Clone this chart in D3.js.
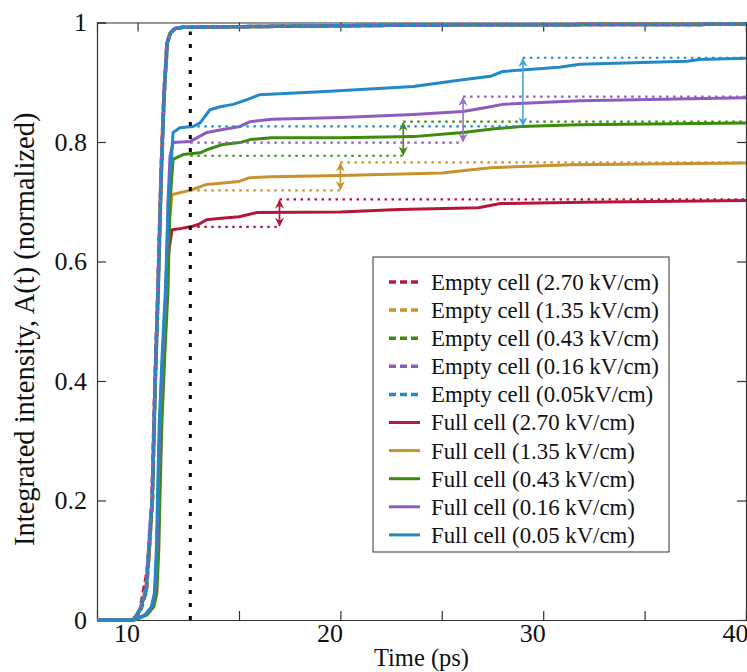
<!DOCTYPE html>
<html>
<head>
<meta charset="utf-8">
<script src="https://cdn.jsdelivr.net/npm/d3@7"></script>
<style>
  body { margin: 0; background: #fff; }
  svg text { font-family: "Liberation Serif", "Times New Roman", serif; fill: #111; }
</style>
</head>
<body>
<div id="chart"></div>
<script>
// series names and colours
const fields = ["2.70", "1.35", "0.43", "0.16", "0.05"];
const colors = ["#b5173a", "#c8922f", "#3b8c0c", "#8e5cc0", "#2289c6"];
const arrowColors = ["#b5173a", "#c8922f", "#3b8c0c", "#9b70c8", "#4aa3d8"];

const emptyLabels = ["Empty cell (2.70 kV/cm)", "Empty cell (1.35 kV/cm)", "Empty cell (0.43 kV/cm)",
  "Empty cell (0.16 kV/cm)", "Empty cell (0.05kV/cm)"];
const fullLabels = ["Full cell (2.70 kV/cm)", "Full cell (1.35 kV/cm)", "Full cell (0.43 kV/cm)",
  "Full cell (0.16 kV/cm)", "Full cell (0.05 kV/cm)"];

// empty cell curves (time in ps, normalized intensity)
const emptyT = [
  [8, 9.78, 10.12, 10.42, 10.55, 10.71, 10.86, 11.0, 11.16, 11.3, 11.45, 11.6, 11.85, 12.24, 18, 25, 40],
  [8, 9.78, 10.12, 10.42, 10.58, 10.72, 10.87, 11.0, 11.16, 11.3, 11.45, 11.6, 11.85, 12.24, 18, 25, 40],
  [8, 9.8, 10.15, 10.45, 10.62, 10.74, 10.88, 11.02, 11.18, 11.32, 11.47, 11.62, 11.87, 12.26, 18, 25, 40],
  [8, 9.78, 10.12, 10.42, 10.6, 10.71, 10.86, 11.0, 11.16, 11.3, 11.45, 11.6, 11.85, 12.24, 18, 25, 40],
  [8, 9.78, 10.12, 10.42, 10.61, 10.72, 10.87, 11.01, 11.17, 11.31, 11.46, 11.61, 11.86, 12.25, 18, 25, 40]
];
const emptyV = [
  [0, 0, 0.017, 0.072, 0.1, 0.2, 0.4, 0.55, 0.75, 0.88, 0.965, 0.982, 0.99, 0.992, 0.994, 0.996, 0.997],
  [0, 0, 0.017, 0.055, 0.12, 0.2, 0.4, 0.55, 0.75, 0.88, 0.965, 0.982, 0.99, 0.992, 0.994, 0.996, 0.997],
  [0, 0, 0.015, 0.05, 0.14, 0.2, 0.4, 0.55, 0.75, 0.88, 0.965, 0.982, 0.99, 0.992, 0.994, 0.996, 0.997],
  [0, 0, 0.017, 0.05, 0.15, 0.2, 0.4, 0.55, 0.75, 0.88, 0.965, 0.982, 0.99, 0.992, 0.994, 0.996, 0.997],
  [0, 0, 0.017, 0.05, 0.15, 0.2, 0.4, 0.55, 0.75, 0.88, 0.965, 0.982, 0.99, 0.992, 0.994, 0.996, 0.997]
];

// full cell curves
const fullT = [
  [8, 9.78, 10.37, 10.71, 10.86, 10.96, 11.01, 11.1, 11.25, 11.4, 11.55, 11.7, 12.1, 12.6, 13.0, 13.4, 14.0, 15.0, 15.9, 20.0, 22.9, 26.8, 27.9, 32, 40],
  [8, 9.78, 10.37, 10.71, 10.86, 10.96, 11.01, 11.1, 11.25, 11.4, 11.55, 11.7, 12.6, 13.4, 15.0, 15.5, 16.6, 20.0, 25.0, 27.4, 31.4, 40],
  [8, 9.85, 10.45, 10.8, 10.95, 11.05, 11.1, 11.2, 11.35, 11.5, 11.6, 11.75, 12.24, 13.08, 13.42, 14.2, 15.05, 15.55, 16.6, 20.0, 23.6, 26.05, 27.6, 28.9, 31.7, 40],
  [8, 9.78, 10.37, 10.71, 10.86, 10.96, 11.01, 11.1, 11.25, 11.4, 11.5, 11.6, 11.75, 12.6, 13.42, 14.2, 15.05, 15.55, 16.6, 20.0, 23.6, 26.05, 27.4, 28.0, 31.8, 40],
  [8, 9.75, 10.35, 10.68, 10.83, 10.93, 10.98, 11.07, 11.22, 11.37, 11.52, 11.67, 11.75, 12.09, 12.73, 13.08, 13.57, 14.07, 14.71, 15.4, 16.0, 19.5, 21.0, 23.6, 25.75, 27.4, 28.0, 30.8, 31.8, 37.1, 37.7, 40]
];
const fullV = [
  [0, 0, 0.008, 0.022, 0.045, 0.12, 0.2, 0.33, 0.45, 0.55, 0.62, 0.653, 0.655, 0.658, 0.662, 0.670, 0.672, 0.675, 0.682, 0.683, 0.687, 0.690, 0.697, 0.699, 0.702],
  [0, 0, 0.008, 0.022, 0.045, 0.12, 0.2, 0.33, 0.45, 0.55, 0.66, 0.712, 0.719, 0.729, 0.734, 0.740, 0.742, 0.744, 0.748, 0.757, 0.762, 0.765],
  [0, 0, 0.008, 0.022, 0.045, 0.12, 0.2, 0.33, 0.45, 0.55, 0.7, 0.771, 0.779, 0.782, 0.787, 0.796, 0.799, 0.804, 0.807, 0.807, 0.809, 0.816, 0.822, 0.826, 0.829, 0.832],
  [0, 0, 0.008, 0.022, 0.045, 0.12, 0.2, 0.33, 0.45, 0.55, 0.7, 0.776, 0.799, 0.801, 0.816, 0.821, 0.826, 0.834, 0.838, 0.841, 0.846, 0.851, 0.859, 0.863, 0.869, 0.874],
  [0, 0, 0.008, 0.022, 0.045, 0.12, 0.2, 0.33, 0.45, 0.55, 0.7, 0.771, 0.816, 0.824, 0.826, 0.832, 0.854, 0.859, 0.863, 0.871, 0.879, 0.885, 0.888, 0.893, 0.903, 0.910, 0.918, 0.925, 0.930, 0.935, 0.938, 0.940]
];

// reference levels and arrows
const refStart = 12.6;
const arrowT = [17.0, 20.0, 23.1, 26.05, 29.0];
const lowV = [0.658, 0.719, 0.777, 0.799, 0.826];
const highV = [0.704, 0.766, 0.834, 0.876, 0.941];

// axes
const xTicks = [10, 15, 20, 25, 30, 35, 40];
const xTickLabels = {10: "10", 20: "20", 30: "30", 40: "40"};
const yTicks = [0, 0.2, 0.4, 0.6, 0.8, 1];
const yTickLabels = ["0", "0.2", "0.4", "0.6", "0.8", "1"];

const W = 747, H = 672;
const pLeft = 97, pRight = 746, pTop = 22.5, pBottom = 620;

const svg = d3.select('#chart').append('svg')
  .attr('width', W).attr('height', H);

const x = d3.scaleLinear().domain([8, 40]).range([pLeft, pRight]);
const y = d3.scaleLinear().domain([0, 1]).range([pBottom, pTop]);

// frame + ticks
const axisColor = '#333';
const gx = svg.append('g').attr('transform', `translate(0,${pBottom})`)
  .call(d3.axisBottom(x).tickValues(xTicks).tickSize(-9).tickPadding(4)
    .tickFormat(d => xTickLabels[d] || ''));
gx.selectAll('text').attr('font-size', '26px').attr('dx', -11);

svg.append('g').attr('transform', `translate(0,${pTop})`)
  .call(d3.axisTop(x).tickValues(xTicks).tickSize(-9).tickFormat(''));

const gy = svg.append('g').attr('transform', `translate(${pLeft},0)`)
  .call(d3.axisLeft(y).tickValues(yTicks).tickSize(-9).tickPadding(10)
    .tickFormat((d, i) => yTickLabels[i]));
gy.selectAll('text').attr('font-size', '26px');

svg.append('g').attr('transform', `translate(${pRight},0)`)
  .call(d3.axisRight(y).tickValues(yTicks).tickSize(-9).tickFormat(''));

svg.selectAll('.domain, .tick line').attr('stroke', axisColor).attr('stroke-width', 1.2);

// axis titles
svg.append('text')
  .attr('x', (pLeft + pRight) / 2).attr('y', 666)
  .attr('text-anchor', 'middle').attr('font-size', '24.5px')
  .text('Time (ps)');

svg.append('text')
  .attr('transform', `translate(24,${(pTop + pBottom) / 2 + 8}) rotate(-90)`)
  .attr('text-anchor', 'middle').attr('dy', '0.35em').attr('font-size', '28.5px')
  .text('Integrated intensity, A(t) (normalized)');

const line = d3.line().x(d => x(d[0])).y(d => y(d[1]));
const dashOffsets = [0, 3, 6, 9, 1.5];

// empty cell curves (dashed)
emptyT.forEach((ts, i) => {
  svg.append('path')
    .datum(ts.map((t, j) => [t, emptyV[i][j]]))
    .attr('d', line)
    .attr('fill', 'none')
    .attr('stroke', colors[i])
    .attr('stroke-width', 3.5)
    .attr('stroke-dasharray', '7,4')
    .attr('stroke-dashoffset', dashOffsets[i])
    .attr('stroke-linejoin', 'round');
});

// full cell curves (solid)
fullT.forEach((ts, i) => {
  svg.append('path')
    .datum(ts.map((t, j) => [t, fullV[i][j]]))
    .attr('d', line)
    .attr('fill', 'none')
    .attr('stroke', colors[i])
    .attr('stroke-width', 3)
    .attr('stroke-linejoin', 'round');
});

// arrow markers
const defs = svg.append('defs');
arrowColors.forEach((c, i) => {
  defs.append('marker')
    .attr('id', 'arr' + i)
    .attr('viewBox', '0 0 10 10')
    .attr('refX', 9).attr('refY', 5)
    .attr('markerWidth', 10).attr('markerHeight', 9)
    .attr('markerUnits', 'userSpaceOnUse')
    .attr('orient', 'auto-start-reverse')
    .append('path')
    .attr('d', 'M0,0 L10,5 L0,10 L3,5 Z')
    .attr('fill', c);
});

// dotted reference levels + arrows
fields.forEach((f, i) => {
  svg.append('line')
    .attr('x1', x(refStart)).attr('x2', x(arrowT[i]))
    .attr('y1', y(lowV[i])).attr('y2', y(lowV[i]))
    .attr('stroke', colors[i]).attr('stroke-width', 2.2)
    .attr('stroke-dasharray', '2.5,4.5');
  svg.append('line')
    .attr('x1', x(arrowT[i])).attr('x2', x(40))
    .attr('y1', y(highV[i])).attr('y2', y(highV[i]))
    .attr('stroke', colors[i]).attr('stroke-width', 2.2)
    .attr('stroke-dasharray', '2.5,4.5');
  svg.append('line')
    .attr('x1', x(arrowT[i])).attr('x2', x(arrowT[i]))
    .attr('y1', y(lowV[i]) - 1).attr('y2', y(highV[i]) + 1)
    .attr('stroke', arrowColors[i]).attr('stroke-width', 1.6)
    .attr('marker-start', `url(#arr${i})`)
    .attr('marker-end', `url(#arr${i})`);
});

// black dotted marker line
svg.append('line')
  .attr('x1', x(refStart)).attr('x2', x(refStart))
  .attr('y1', y(0)).attr('y2', y(0.985))
  .attr('stroke', '#000').attr('stroke-width', 3)
  .attr('stroke-dasharray', '4,9');

// legend
const lg = svg.append('g').attr('transform', 'translate(373,257)');
lg.append('rect')
  .attr('width', 296).attr('height', 295)
  .attr('fill', '#fff').attr('stroke', '#333').attr('stroke-width', 1);

const entries = emptyLabels.map((l, i) => ({label: l, color: colors[i], dashed: true}))
  .concat(fullLabels.map((l, i) => ({label: l, color: colors[i], dashed: false})));

entries.forEach((e, i) => {
  const yy = 25 + i * 28.1;
  lg.append('line')
    .attr('x1', 16).attr('x2', 47).attr('y1', yy).attr('y2', yy)
    .attr('stroke', e.color).attr('stroke-width', e.dashed ? 3.5 : 3)
    .attr('stroke-dasharray', e.dashed ? '7,4' : null);
  lg.append('text')
    .attr('x', 58).attr('y', yy).attr('dy', '0.35em')
    .attr('font-size', '22.8px')
    .text(e.label);
});
</script>
</body>
</html>
